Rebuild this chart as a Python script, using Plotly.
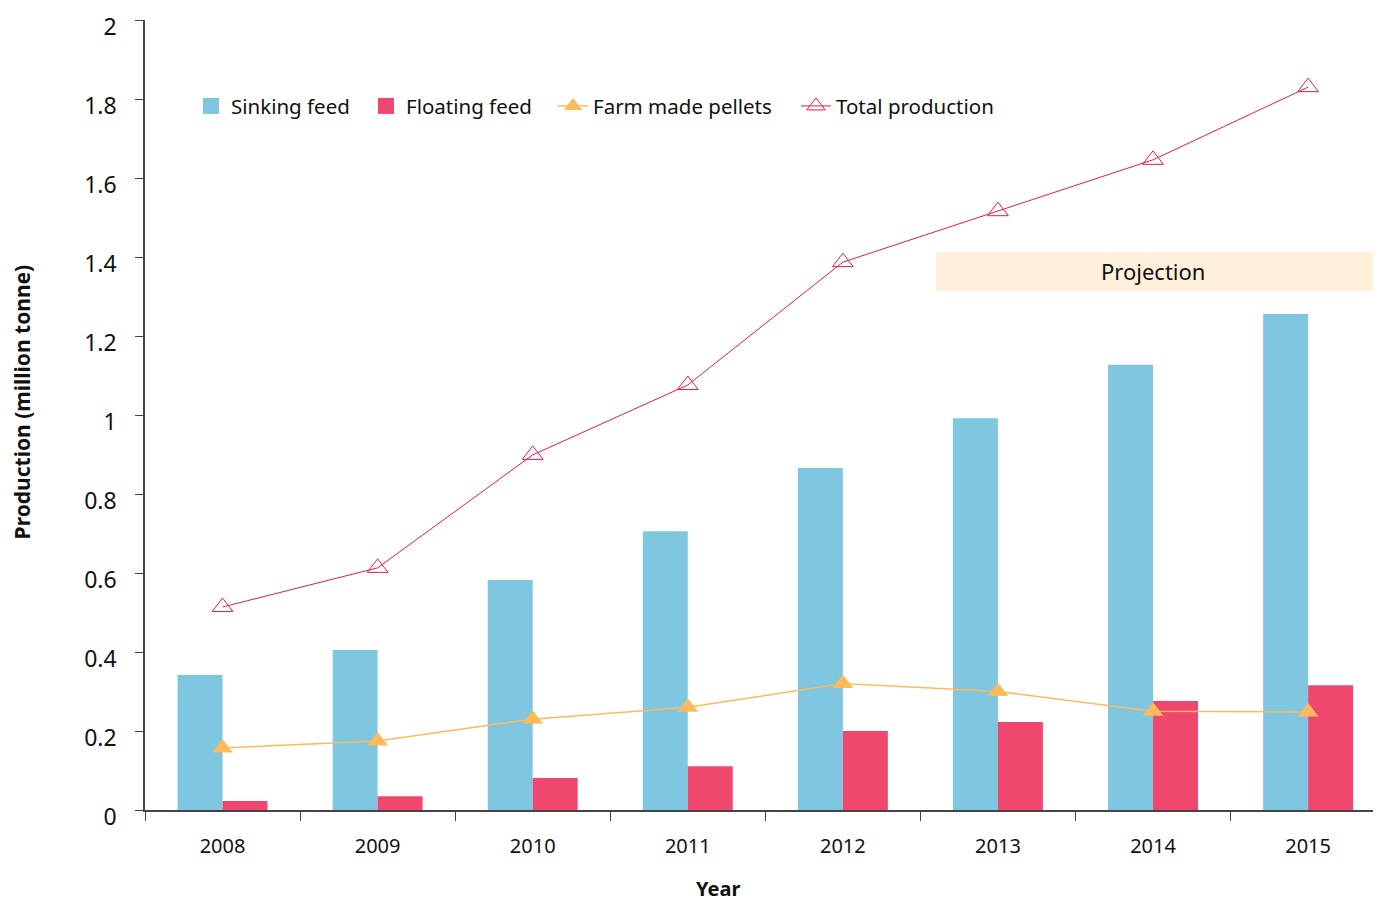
import plotly.graph_objects as go

years = ["2008", "2009", "2010", "2011", "2012", "2013", "2014", "2015"]
sinking_feed = [0.342, 0.405, 0.582, 0.706, 0.866, 0.992, 1.127, 1.256]
floating_feed = [0.023, 0.035, 0.081, 0.111, 0.200, 0.223, 0.276, 0.316]
farm_made_pellets = [0.157, 0.175, 0.230, 0.260, 0.320, 0.300, 0.250, 0.248]
total_production = [0.514, 0.613, 0.899, 1.076, 1.387, 1.516, 1.646, 1.830]
y_ticks = [0, 0.2, 0.4, 0.6, 0.8, 1.0, 1.2, 1.4, 1.6, 1.8, 2.0]
y_tick_labels = ["0", "0.2", "0.4", "0.6", "0.8", "1", "1.2", "1.4", "1.6", "1.8", "2"]

FONT = "Noto Sans"
BLUE = "#7FC7E0"
PINK = "#F0476F"
ORANGE = "#FDBA5A"
RED = "#E8194F"
TXT = "#111111"

fig = go.Figure()
fig.add_trace(go.Bar(x=years, y=sinking_feed, name="Sinking feed", legendgroup="s", showlegend=False,
                     marker=dict(color=BLUE, line=dict(width=0))))
fig.add_trace(go.Bar(x=years, y=floating_feed, name="Floating feed", legendgroup="f", showlegend=False,
                     marker=dict(color=PINK, line=dict(width=0))))
fig.add_trace(go.Scatter(x=years, y=farm_made_pellets, name="Farm made pellets", mode="lines+markers",
                         line=dict(color=ORANGE, width=1.5), legend="legend3",
                         marker=dict(symbol="triangle-up", size=18, color=ORANGE)))
fig.add_trace(go.Scatter(x=years, y=total_production, name="Total production", mode="lines+markers",
                         line=dict(color=RED, width=1), legend="legend4",
                         marker=dict(symbol="triangle-up-open", size=18, color=RED, line=dict(width=1))))
# legend entries with larger square swatches for the bar series
fig.add_trace(go.Scatter(x=[None], y=[None], mode="markers", name="Sinking feed", legendgroup="s",
                         legend="legend", marker=dict(symbol="square", size=16, color=BLUE)))
fig.add_trace(go.Scatter(x=[None], y=[None], mode="markers", name="Floating feed", legendgroup="f",
                         legend="legend2", marker=dict(symbol="square", size=16, color=PINK)))

# Projection band
fig.add_shape(type="rect", xref="x", yref="y", x0=4.6, x1=7.45, y0=1.314, y1=1.413,
              fillcolor="#FFF0DC", line=dict(width=0), layer="below")
fig.add_annotation(x=6.0, y=1.364, xref="x", yref="y", text="Projection", showarrow=False,
                   font=dict(family=FONT, size=22, color=TXT))

# Axis titles
fig.add_annotation(x=(718 - 145) / 1236, y=-0.1177, xref="paper", yref="paper", text="<b>Year</b>",
                   showarrow=False, font=dict(family=FONT, size=20, color=TXT),
                   xanchor="center", yanchor="bottom", borderpad=0)
fig.add_annotation(x=-0.0995, y=0.516, xref="paper", yref="paper", text="<b>Production (million tonne)</b>",
                   textangle=-90, showarrow=False, font=dict(family=FONT, size=21, color=TXT),
                   xanchor="center", yanchor="middle")

leg_common = dict(orientation="h", y=0.891, yanchor="middle", xanchor="left",
                  font=dict(family=FONT, size=20.5, color=TXT), bgcolor="rgba(0,0,0,0)")

fig.update_layout(
    width=1373, height=896,
    margin=dict(l=137, r=0, t=12, b=94),
    paper_bgcolor="white", plot_bgcolor="white",
    barmode="group", bargap=0.42, bargroupgap=0,
    font=dict(family=FONT, color=TXT),
    showlegend=True,
    legend=dict(x=0.0372, **leg_common),
    legend2=dict(x=0.1788, **leg_common),
    legend3=dict(x=0.3301, **leg_common),
    legend4=dict(x=0.5267, **leg_common),
    xaxis=dict(
        range=[-0.5, 7.47], showline=True, linecolor="#444444", linewidth=1.5,
        ticks="outside", ticklen=9, tickcolor="#444444", tickson="boundaries",
        showgrid=False, zeroline=False, automargin=False,
        tickfont=dict(family=FONT, size=20, color=TXT),
        ticklabelstandoff=17,
    ),
    yaxis=dict(
        range=[0, 2], tickmode="array", tickvals=y_ticks, ticktext=y_tick_labels,
        showline=True, linecolor="#444444", linewidth=1.5,
        ticks="outside", ticklen=8, tickcolor="#444444",
        showgrid=False, zeroline=False, automargin=False,
        tickfont=dict(family=FONT, size=23, color=TXT),
        ticklabelstandoff=14, ticklabelshift=7, ticklabeloverflow="allow",
    ),
)

fig.write_html("out.html")
